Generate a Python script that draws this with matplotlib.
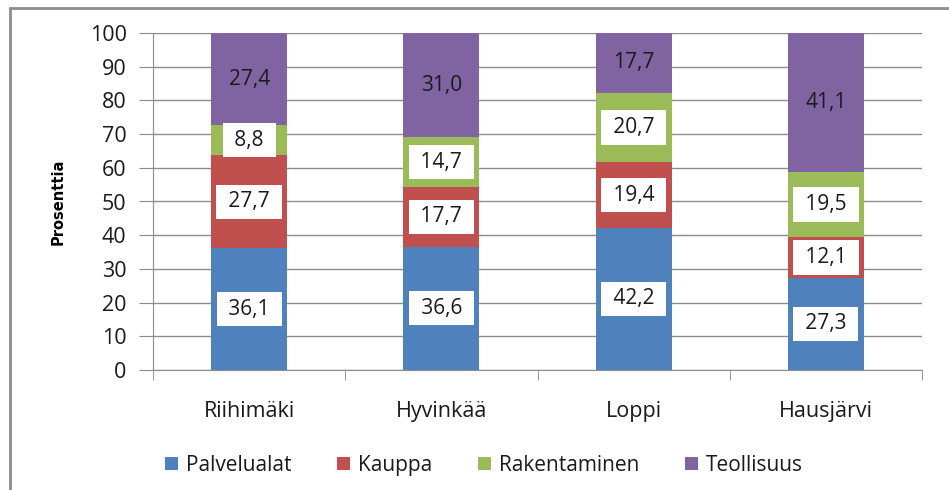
import matplotlib.pyplot as plt
from matplotlib.patches import Rectangle
import numpy as np

plt.rcParams['font.family'] = ['Open Sans', 'DejaVu Sans']

kunnat = ['Riihimäki', 'Hyvinkää', 'Loppi', 'Hausjärvi']
sarjat = ['Palvelualat', 'Kauppa', 'Rakentaminen', 'Teollisuus']
palvelualat = [36.1, 36.6, 42.2, 27.3]
kauppa = [27.7, 17.7, 19.4, 12.1]
rakentaminen = [8.8, 14.7, 20.7, 19.5]
teollisuus = [27.4, 31.0, 17.7, 41.1]
varit = ['#4F81BD', '#C0504D', '#9BBB59', '#8064A2']

W, H = 949, 490
fig = plt.figure(figsize=(W / 100, H / 100), dpi=100)
ax = fig.add_axes([153 / W, 1 - 370 / H, (922 - 153) / W, (370 - 33) / H])

# outer frame (right and bottom edges fall outside the picture)
fig.patches.append(Rectangle((10 / W, -0.1), 1.2, 1.1 - 8 / H, transform=fig.transFigure,
                             fill=False, edgecolor='#8c8c8c', linewidth=2))

x = np.arange(len(kunnat))
pohja = np.zeros(len(kunnat))
for nimi, arvot, vari in zip(sarjat, [palvelualat, kauppa, rakentaminen, teollisuus], varit):
    ax.bar(x, arvot, width=0.395, bottom=pohja, color=vari, label=nimi, zorder=3)
    for xi, b, v in zip(x, pohja, arvot):
        teksti = f'{v:.1f}'.replace('.', ',')
        if nimi == 'Teollisuus':
            ax.text(xi, b + v / 2, teksti, ha='center', va='center', fontsize=15,
                    color='#1a1a1a', zorder=4)
        else:
            ax.text(xi, b + v / 2, ' ' + teksti + ' ', ha='center', va='center', fontsize=15,
                    color='#1a1a1a', zorder=4,
                    bbox=dict(boxstyle='square,pad=0.32', facecolor='white', edgecolor='none'))
    pohja = pohja + np.array(arvot)

ax.set_xlim(-0.5, len(kunnat) - 0.5)
ax.set_ylim(0, 100)
ax.set_yticks(range(0, 101, 10))
ax.set_xticks(x)
ax.set_xticklabels(kunnat)
ax.set_xticks(np.arange(-0.5, len(kunnat)), minor=True)
ax.tick_params(axis='x', which='major', length=0, pad=22, labelsize=15.5, labelcolor='#1a1a1a')
ax.tick_params(axis='x', which='minor', length=7, color='#8c8c8c')
ax.tick_params(axis='y', length=10, color='#8c8c8c', pad=9, labelsize=15.5, labelcolor='#1a1a1a')
ax.grid(axis='y', color='#8c8c8c', linewidth=1, zorder=0)
for s in ['top', 'right']:
    ax.spines[s].set_visible(False)
for s in ['left', 'bottom']:
    ax.spines[s].set_color('#8c8c8c')

fig.text(58 / W, 1 - 202 / H, 'Prosenttia', rotation=90, ha='center', va='center',
         fontsize=10.5, fontweight='bold', family=['Liberation Sans Narrow', 'DejaVu Sans'])

fig.legend(loc='center', bbox_to_anchor=(484 / W, 1 - 465 / H), ncol=4, frameon=False,
           fontsize=15, handlelength=0.6, handleheight=0.6, handletextpad=0.4,
           columnspacing=2.2, labelcolor='#1a1a1a')

fig.savefig('out.png', dpi=100)
